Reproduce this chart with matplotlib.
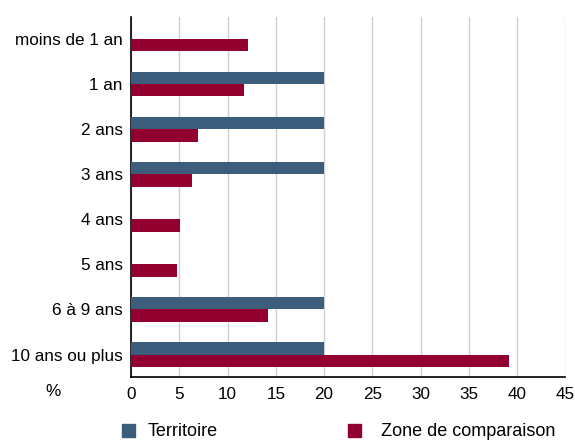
import numpy as np
import matplotlib.pyplot as plt
from matplotlib.patches import Patch

plt.rcParams['font.family'] = ['Liberation Sans', 'DejaVu Sans']

# Données
categories = ['moins de 1 an', '1 an', '2 ans', '3 ans', '4 ans', '5 ans', '6 à 9 ans', '10 ans ou plus']
territoire = [0, 20, 20, 20, 0, 0, 20, 20]
zone = [12.1, 11.7, 6.9, 6.3, 5.1, 4.8, 14.2, 39.2]
ticks = [0, 5, 10, 15, 20, 25, 30, 35, 40, 45]

bleu = '#3d5d7c'
rouge = '#91002f'

fig = plt.figure(figsize=(5.75, 4.42), dpi=100)
ax = fig.add_axes([0.228, 0.147, 0.755, 0.815])

y = np.arange(len(categories))
h = 0.27
ax.barh(y - h / 2, territoire, height=h, color=bleu, zorder=3)
ax.barh(y + h / 2, zone, height=h, color=rouge, zorder=3)

ax.set_xlim(0, 45)
ax.set_ylim(len(categories) - 0.5, -0.5)
ax.set_xticks(ticks)
ax.set_yticks(y)
ax.set_yticklabels(categories)
ax.tick_params(axis='both', length=0, labelsize=12.3, colors='black')
ax.tick_params(axis='x', pad=7)
ax.tick_params(axis='y', pad=6)
ax.xaxis.grid(True, color='#d0d0d0', linewidth=1, zorder=0)

for s in ['top', 'right']:
    ax.spines[s].set_visible(False)
ax.spines['left'].set_linewidth(1.2)
ax.spines['bottom'].set_linewidth(1.2)

fig.text(53 / 575, 1 - 392 / 442, '%', fontsize=12.3, ha='center', va='center')

# Légende : deux entrées placées séparément
leg1 = fig.legend(handles=[Patch(color=bleu, label='Territoire')], loc='center left',
                  bbox_to_anchor=(122 / 575, 1 - 432 / 442), frameon=False, fontsize=13,
                  handlelength=0.72, handleheight=0.72, handletextpad=0.7,
                  borderpad=0, borderaxespad=0)
leg2 = fig.legend(handles=[Patch(color=rouge, label='Zone de comparaison')], loc='center left',
                  bbox_to_anchor=(348 / 575, 1 - 432 / 442), frameon=False, fontsize=13,
                  handlelength=0.72, handleheight=0.72, handletextpad=1.1,
                  borderpad=0, borderaxespad=0)

fig.savefig('out.png', dpi=100)
